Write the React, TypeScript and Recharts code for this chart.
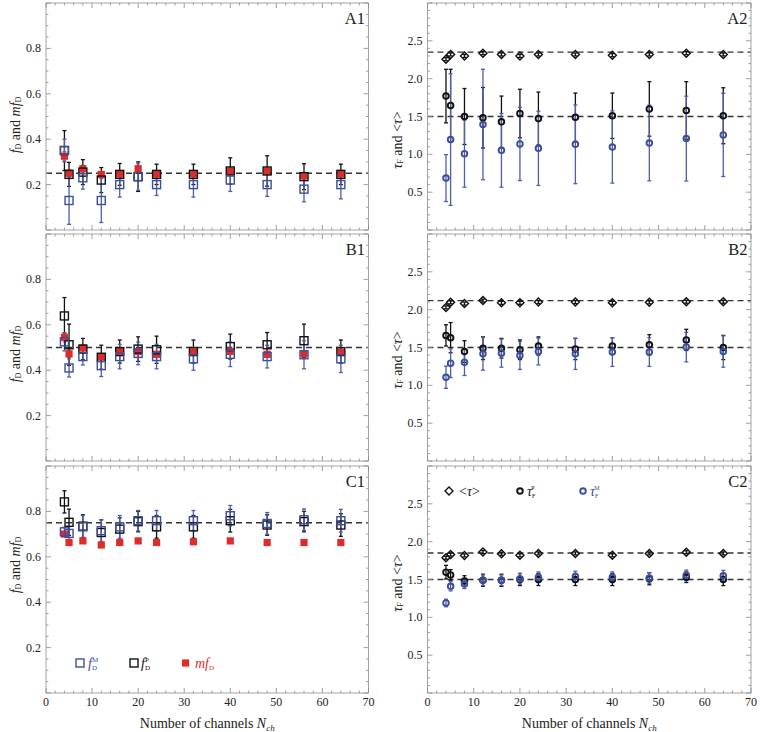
import React from 'react';
import { ScatterChart, Scatter, XAxis, YAxis, ErrorBar, ReferenceLine, Legend } from 'recharts';

const FONT = '"Liberation Serif", "Times New Roman", serif';
const BLUE = '#3b4e9e';
const BLUE_BAR = '#4d5fa8';
const RED = '#e02b2b';
const RED_BAR = '#e87070';
const BLACK = '#111111';
const FRAME = '#a3a3a3';
const TICK = '#8a8a8a';
const DASH = '#333333';

// x positions (number of channels)
const channels = [4, 5, 8, 12, 16, 20, 24, 32, 40, 48, 56, 64];

// tick labels
const xTickLabels = [0, 10, 20, 30, 40, 50, 60, 70];
const yTickLabelsLeft = [0.2, 0.4, 0.6, 0.8];
const yTickLabelsRight = [0.5, 1.0, 1.5, 2.0, 2.5];

// ---------- Panel A1 ----------
const A1_fM = [0.35, 0.13, 0.23, 0.13, 0.2, 0.235, 0.2, 0.2, 0.22, 0.2, 0.18, 0.2];
const A1_fM_err = [0.05, 0.105, 0.05, 0.097, 0.055, 0.06, 0.048, 0.055, 0.05, 0.052, 0.056, 0.063];
const A1_fP = [0.35, 0.245, 0.255, 0.22, 0.245, 0.235, 0.245, 0.245, 0.26, 0.26, 0.235, 0.245];
const A1_fP_err = [0.088, 0.053, 0.055, 0.055, 0.048, 0.065, 0.045, 0.045, 0.058, 0.067, 0.057, 0.045];
const A1_mf = [0.325, 0.25, 0.27, 0.245, 0.247, 0.27, 0.247, 0.247, 0.259, 0.259, 0.238, 0.247];
const A1_mf_err = [0.02, 0.015, 0.015, 0.012, 0.012, 0.015, 0.012, 0.012, 0.012, 0.012, 0.012, 0.012];
const A1_ref = [0.25];

// ---------- Panel B1 ----------
const B1_fM = [0.525, 0.41, 0.46, 0.42, 0.46, 0.474, 0.46, 0.45, 0.47, 0.46, 0.468, 0.45];
const B1_fM_err = [0.04, 0.04, 0.037, 0.048, 0.054, 0.05, 0.054, 0.05, 0.054, 0.05, 0.062, 0.06];
const B1_fP = [0.639, 0.512, 0.493, 0.457, 0.482, 0.493, 0.49, 0.482, 0.504, 0.512, 0.53, 0.482];
const B1_fP_err = [0.081, 0.091, 0.047, 0.053, 0.051, 0.054, 0.06, 0.051, 0.055, 0.054, 0.073, 0.051];
const B1_mf = [0.545, 0.472, 0.498, 0.46, 0.482, 0.482, 0.47, 0.48, 0.483, 0.47, 0.472, 0.48];
const B1_mf_err = [0.02, 0.015, 0.012, 0.012, 0.012, 0.012, 0.012, 0.012, 0.012, 0.012, 0.012, 0.012];
const B1_ref = [0.5];

// ---------- Panel C1 ----------
const C1_fM = [0.71, 0.703, 0.732, 0.715, 0.732, 0.759, 0.759, 0.759, 0.781, 0.747, 0.763, 0.759];
const C1_fM_err = [0.02, 0.03, 0.05, 0.048, 0.05, 0.045, 0.045, 0.045, 0.045, 0.048, 0.048, 0.05];
const C1_fP = [0.842, 0.752, 0.735, 0.707, 0.722, 0.755, 0.732, 0.732, 0.759, 0.74, 0.755, 0.74];
const C1_fP_err = [0.049, 0.058, 0.05, 0.056, 0.05, 0.045, 0.05, 0.05, 0.05, 0.045, 0.045, 0.05];
const C1_mf = [0.7, 0.663, 0.67, 0.652, 0.663, 0.67, 0.663, 0.666, 0.67, 0.663, 0.663, 0.663];
const C1_mf_err = [0.01, 0.008, 0.008, 0.008, 0.008, 0.008, 0.008, 0.008, 0.008, 0.008, 0.008, 0.008];
const C1_ref = [0.75];

// ---------- Panel A2 ----------
const A2_tau = [2.257, 2.32, 2.3, 2.337, 2.32, 2.3, 2.32, 2.32, 2.31, 2.32, 2.337, 2.32];
const A2_tau_err = [0.02, 0.02, 0.02, 0.02, 0.02, 0.02, 0.02, 0.02, 0.02, 0.02, 0.02, 0.02];
const A2_tP = [1.77, 1.646, 1.5, 1.483, 1.43, 1.54, 1.473, 1.49, 1.51, 1.6, 1.58, 1.51];
const A2_tP_err = [0.354, 0.478, 0.37, 0.4, 0.34, 0.32, 0.35, 0.32, 0.3, 0.36, 0.38, 0.37];
const A2_tM = [0.686, 1.195, 1.009, 1.394, 1.053, 1.137, 1.079, 1.132, 1.097, 1.15, 1.208, 1.257];
const A2_tM_err = [0.31, 0.87, 0.443, 0.73, 0.487, 0.483, 0.49, 0.52, 0.477, 0.5, 0.56, 0.55];
const A2_ref = [2.35, 1.5];

// ---------- Panel B2 ----------
const B2_tau = [2.03, 2.097, 2.08, 2.12, 2.09, 2.09, 2.1, 2.1, 2.09, 2.097, 2.105, 2.105];
const B2_tau_err = [0.02, 0.02, 0.02, 0.02, 0.02, 0.02, 0.02, 0.02, 0.02, 0.02, 0.02, 0.02];
const B2_tP = [1.66, 1.63, 1.447, 1.49, 1.49, 1.47, 1.52, 1.48, 1.52, 1.535, 1.6, 1.5];
const B2_tP_err = [0.14, 0.2, 0.143, 0.15, 0.13, 0.13, 0.12, 0.14, 0.11, 0.135, 0.14, 0.16];
const B2_tM = [1.107, 1.293, 1.306, 1.416, 1.425, 1.394, 1.447, 1.416, 1.44, 1.44, 1.505, 1.447];
const B2_tM_err = [0.147, 0.19, 0.176, 0.216, 0.185, 0.184, 0.177, 0.206, 0.19, 0.19, 0.195, 0.207];
const B2_ref = [2.12, 1.5];

// ---------- Panel C2 ----------
const C2_tau = [1.788, 1.83, 1.818, 1.862, 1.84, 1.82, 1.845, 1.845, 1.82, 1.845, 1.86, 1.845];
const C2_tau_err = [0.02, 0.02, 0.02, 0.02, 0.02, 0.02, 0.02, 0.02, 0.02, 0.02, 0.02, 0.02];
const C2_tP = [1.597, 1.56, 1.48, 1.49, 1.49, 1.5, 1.5, 1.5, 1.5, 1.51, 1.53, 1.5];
const C2_tP_err = [0.09, 0.07, 0.07, 0.08, 0.08, 0.08, 0.08, 0.08, 0.08, 0.08, 0.07, 0.08];
const C2_tM = [1.19, 1.41, 1.44, 1.49, 1.49, 1.51, 1.53, 1.54, 1.53, 1.52, 1.555, 1.55];
const C2_tM_err = [0.05, 0.06, 0.06, 0.07, 0.07, 0.07, 0.07, 0.07, 0.07, 0.07, 0.07, 0.07];
const C2_ref = [1.85, 1.5];

const pts = (ys: number[], errs: number[]) => channels.map((x, i) => ({ x, y: ys[i], err: errs[i] }));

const range = (lo: number, hi: number, step: number) => {
  const out: number[] = [];
  const n = Math.round((hi - lo) / step);
  for (let i = 0; i <= n; i++) out.push(+(lo + i * step).toFixed(3));
  return out;
};

const isMult = (v: number, step: number) => Math.abs(v / step - Math.round(v / step)) < 1e-6;

// ---------- marker shapes ----------
const hollowSquare = (color: string) => (p: any) => (
  <rect x={p.cx - 4} y={p.cy - 4} width={8} height={8} fill="none" stroke={color} strokeWidth={1.4} />
);
const filledSquare = (color: string) => (p: any) => (
  <rect x={p.cx - 3.6} y={p.cy - 3.6} width={7.2} height={7.2} fill={color} stroke="none" />
);
const hollowCircle = (color: string) => (p: any) => (
  <circle cx={p.cx} cy={p.cy} r={2.8} fill="none" stroke={color} strokeWidth={1.9} />
);
const hollowDiamond = (color: string) => (p: any) => (
  <path
    d={`M${p.cx},${p.cy - 4}L${p.cx + 4},${p.cy}L${p.cx},${p.cy + 4}L${p.cx - 4},${p.cy}Z`}
    fill="none"
    stroke={color}
    strokeWidth={1.4}
  />
);

type Series = { ys: number[]; errs: number[]; shape: any; bar: string; name: string };

type PanelProps = {
  left: number;
  top: number;
  width: number;
  height: number;
  margin: { top: number; right: number; bottom: number; left: number };
  yMax: number;
  yMajor: number;
  yMinor: number;
  yLabels: number[];
  showX: boolean;
  tag: string;
  series: Series[];
  refs: number[];
  yTitle: React.ReactNode;
  yTitleCenter: number;
  legend?: React.ReactNode;
  legendPos?: { left: number; top: number };
};

const xMinorTicks = range(0, 70, 2);
const AX = 1; // axis thickness used for layout

function Panel(props: PanelProps) {
  const { left, top, width, height, margin, yMax, yMajor, yMinor, yLabels, showX, tag, series, refs, yTitle, yTitleCenter } = props;
  const plotL = margin.left + AX;
  const plotR = width - margin.right - AX;
  const plotT = margin.top + AX;
  const plotB = height - margin.bottom - AX;
  const yTicks = range(0, yMax, yMinor);

  const xTickBottom = (p: any) => {
    const v = p.payload.value;
    const major = isMult(v, 10);
    const lab = showX && xTickLabels.includes(v);
    return (
      <g>
        <line x1={p.x} x2={p.x} y1={p.y} y2={p.y - (major ? 5 : 2.5)} stroke={TICK} strokeWidth={0.8} />
        {lab ? (
          <text x={p.x} y={p.y + 12.5} textAnchor="middle" fontSize={12} fontFamily={FONT} fill="#222">
            {v}
          </text>
        ) : null}
      </g>
    );
  };
  const xTickTop = (p: any) => {
    const v = p.payload.value;
    const major = isMult(v, 10);
    return <line x1={p.x} x2={p.x} y1={p.y} y2={p.y + (major ? 5 : 2.5)} stroke={TICK} strokeWidth={0.8} />;
  };
  const yTickLeft = (p: any) => {
    const v = p.payload.value;
    const major = isMult(v, yMajor);
    const lab = yLabels.some((l) => Math.abs(l - v) < 1e-6);
    return (
      <g>
        <line x1={p.x} x2={p.x + (major ? 5 : 2.5)} y1={p.y} y2={p.y} stroke={TICK} strokeWidth={0.8} />
        {lab ? (
          <text x={p.x - 5} y={p.y + 4} textAnchor="end" fontSize={12} fontFamily={FONT} fill="#222">
            {v.toFixed(1)}
          </text>
        ) : null}
      </g>
    );
  };
  const yTickRight = (p: any) => {
    const v = p.payload.value;
    const major = isMult(v, yMajor);
    return <line x1={p.x} x2={p.x - (major ? 5 : 2.5)} y1={p.y} y2={p.y} stroke={TICK} strokeWidth={0.8} />;
  };

  return (
    <div style={{ position: 'absolute', left, top, width, height }}>
      <ScatterChart width={width} height={height} margin={margin}>
        <XAxis
          type="number"
          dataKey="x"
          domain={[0, 70]}
          allowDataOverflow
          ticks={xMinorTicks}
          interval={0}
          height={AX}
          tickSize={0}
          tickMargin={0}
          tickLine={false}
          axisLine={{ stroke: FRAME, strokeWidth: 1 }}
          tick={xTickBottom}
          label={{
            content: () =>
              showX ? (
                <text x={(plotL + plotR) / 2} y={plotB + 35} textAnchor="middle" fontSize={14} fontFamily={FONT} fill="#222">
                  Number of channels <tspan fontStyle="italic">N</tspan>
                  <tspan fontStyle="italic" fontSize={9} dy={3}>
                    ch
                  </tspan>
                </text>
              ) : null,
          }}
        />
        <XAxis
          xAxisId="top"
          orientation="top"
          type="number"
          dataKey="x"
          domain={[0, 70]}
          allowDataOverflow
          ticks={xMinorTicks}
          interval={0}
          height={AX}
          tickSize={0}
          tickMargin={0}
          tickLine={false}
          axisLine={{ stroke: FRAME, strokeWidth: 1 }}
          tick={xTickTop}
          label={{
            content: () => (
              <text x={plotR - 3.5} y={plotT + 21} textAnchor="end" fontSize={16.5} fontFamily={FONT} fill="#222">
                {tag}
              </text>
            ),
          }}
        />
        <YAxis
          type="number"
          dataKey="y"
          domain={[0, yMax]}
          allowDataOverflow
          ticks={yTicks}
          interval={0}
          width={AX}
          tickSize={0}
          tickMargin={0}
          tickLine={false}
          axisLine={{ stroke: FRAME, strokeWidth: 1 }}
          tick={yTickLeft}
          label={{
            content: () => (
              <text
                x={plotL - 31}
                y={yTitleCenter}
                transform={`rotate(-90 ${plotL - 31} ${yTitleCenter})`}
                textAnchor="middle"
                dominantBaseline="central"
                fontSize={14}
                fontFamily={FONT}
                fill="#222"
              >
                {yTitle}
              </text>
            ),
          }}
        />
        <YAxis
          yAxisId="r"
          orientation="right"
          type="number"
          dataKey="y"
          domain={[0, yMax]}
          allowDataOverflow
          ticks={yTicks}
          interval={0}
          width={AX}
          tickSize={0}
          tickMargin={0}
          tickLine={false}
          axisLine={{ stroke: FRAME, strokeWidth: 1 }}
          tick={yTickRight}
        />
        {refs.map((r) => (
          <ReferenceLine key={r} y={r} stroke={DASH} strokeWidth={1.3} strokeDasharray="6 4" />
        ))}
        {series.map((s) => (
          <Scatter key={s.name} name={s.name} data={pts(s.ys, s.errs)} shape={s.shape} isAnimationActive={false}>
            <ErrorBar dataKey="err" direction="y" width={2} stroke={s.bar} strokeWidth={1.3} isAnimationActive={false} />
          </Scatter>
        ))}
        {props.legend ? (
          <Legend
            layout="horizontal"
            verticalAlign="middle"
            align="center"
            wrapperStyle={{ left: props.legendPos!.left, top: props.legendPos!.top, width: 200, height: 20 }}
            content={() => props.legend}
          />
        ) : null}
      </ScatterChart>
    </div>
  );
}

const leftTitle = (
  <>
    <tspan fontStyle="italic">f</tspan>
    <tspan fontSize={8} dy={3}>
      D
    </tspan>
    <tspan dy={-3}> and </tspan>
    <tspan fontStyle="italic">mf</tspan>
    <tspan fontSize={8} dy={3}>
      D
    </tspan>
  </>
);

const rightTitle = (
  <>
    <tspan fontStyle="italic">τ</tspan>
    <tspan fontSize={8} dy={3}>
      F
    </tspan>
    <tspan dy={-3}> and &lt;</tspan>
    <tspan fontStyle="italic">τ</tspan>
    <tspan>&gt;</tspan>
  </>
);

const legendC1 = (
  <svg width={200} height={20} style={{ overflow: 'visible' }}>
    <rect x={1} y={6} width={8} height={8} fill="none" stroke={BLUE} strokeWidth={1.4} />
    <text x={13} y={15} fontSize={14} fontFamily={FONT} fill={BLUE}>
      <tspan fontStyle="italic">f</tspan>
      <tspan fontSize={7} dy={2}>D</tspan>
      <tspan fontSize={7} dx={-5} dy={-8}>M</tspan>
    </text>
    <rect x={55} y={6} width={8} height={8} fill="none" stroke={BLACK} strokeWidth={1.4} />
    <text x={66} y={15} fontSize={14} fontFamily={FONT} fill={BLACK}>
      <tspan fontStyle="italic">f</tspan>
      <tspan fontSize={7} dy={2}>D</tspan>
      <tspan fontSize={7} dx={-5} dy={-8}>P</tspan>
    </text>
    <rect x={107} y={6.4} width={7.2} height={7.2} fill={RED} />
    <text x={120} y={15} fontSize={14} fontFamily={FONT} fill={RED}>
      <tspan fontStyle="italic">mf</tspan>
      <tspan fontSize={7} dy={2}>D</tspan>
    </text>
  </svg>
);

const legendC2 = (
  <svg width={200} height={20} style={{ overflow: 'visible' }}>
    <path d="M5,6L9,10L5,14L1,10Z" fill="none" stroke={BLACK} strokeWidth={1.4} />
    <text x={15} y={15} fontSize={14} fontFamily={FONT} fill={BLACK}>
      &lt;<tspan fontStyle="italic">τ</tspan>&gt;
    </text>
    <circle cx={76} cy={10} r={2.8} fill="none" stroke={BLACK} strokeWidth={1.9} />
    <text x={83} y={15} fontSize={14} fontFamily={FONT} fill={BLACK}>
      <tspan fontStyle="italic">τ</tspan>
      <tspan fontSize={6} dy={2}>F</tspan>
      <tspan fontSize={6} dx={-4} dy={-8}>P</tspan>
    </text>
    <circle cx={139} cy={10} r={2.8} fill="none" stroke={BLUE} strokeWidth={1.9} />
    <text x={146} y={15} fontSize={14} fontFamily={FONT} fill={BLUE}>
      <tspan fontStyle="italic">τ</tspan>
      <tspan fontSize={6} dy={2}>F</tspan>
      <tspan fontSize={6} dx={-4} dy={-8}>M</tspan>
    </text>
  </svg>
);

const fSeries = (fM: number[], fMe: number[], fP: number[], fPe: number[], mf: number[], mfe: number[]): Series[] => [
  { name: 'mfD', ys: mf, errs: mfe, shape: filledSquare(RED), bar: RED_BAR },
  { name: 'fDP', ys: fP, errs: fPe, shape: hollowSquare(BLACK), bar: BLACK },
  { name: 'fDM', ys: fM, errs: fMe, shape: hollowSquare(BLUE), bar: BLUE_BAR },
];

const tSeries = (tau: number[], taue: number[], tP: number[], tPe: number[], tM: number[], tMe: number[]): Series[] => [
  { name: 'tau', ys: tau, errs: taue, shape: hollowDiamond(BLACK), bar: BLACK },
  { name: 'tauP', ys: tP, errs: tPe, shape: hollowCircle(BLACK), bar: BLACK },
  { name: 'tauM', ys: tM, errs: tMe, shape: hollowCircle(BLUE), bar: BLUE_BAR },
];

const LM = { left: 45, right: 10.5 };
const RM = { left: 46.5, right: 8 };

export default function App() {
  return (
    <div style={{ position: 'absolute', left: 0, top: 0, width: 760, height: 732, background: '#fff', fontFamily: FONT }}>
      <Panel
        left={0} top={0} width={380} height={232}
        margin={{ top: 2, bottom: 1, ...LM }}
        yMax={1} yMajor={0.2} yMinor={0.05} yLabels={yTickLabelsLeft}
        showX={false} tag="A1"
        series={fSeries(A1_fM, A1_fM_err, A1_fP, A1_fP_err, A1_mf, A1_mf_err)}
        refs={A1_ref} yTitle={leftTitle} yTitleCenter={125}
      />
      <Panel
        left={0} top={232} width={380} height={231}
        margin={{ top: 1, bottom: 1, ...LM }}
        yMax={1} yMajor={0.2} yMinor={0.05} yLabels={yTickLabelsLeft}
        showX={false} tag="B1"
        series={fSeries(B1_fM, B1_fM_err, B1_fP, B1_fP_err, B1_mf, B1_mf_err)}
        refs={B1_ref} yTitle={leftTitle} yTitleCenter={122}
      />
      <Panel
        left={0} top={463} width={380} height={269}
        margin={{ top: 2, bottom: 38, ...LM }}
        yMax={1} yMajor={0.2} yMinor={0.05} yLabels={yTickLabelsLeft}
        showX={true} tag="C1"
        series={fSeries(C1_fM, C1_fM_err, C1_fP, C1_fP_err, C1_mf, C1_mf_err)}
        refs={C1_ref} yTitle={leftTitle} yTitleCenter={102}
        legend={legendC1} legendPos={{ left: 75, top: 190 }}
      />
      <Panel
        left={380} top={0} width={380} height={232}
        margin={{ top: 2, bottom: 1, ...RM }}
        yMax={3} yMajor={0.5} yMinor={0.1} yLabels={yTickLabelsRight}
        showX={false} tag="A2"
        series={tSeries(A2_tau, A2_tau_err, A2_tP, A2_tP_err, A2_tM, A2_tM_err)}
        refs={A2_ref} yTitle={rightTitle} yTitleCenter={140}
      />
      <Panel
        left={380} top={232} width={380} height={231}
        margin={{ top: 1, bottom: 1, ...RM }}
        yMax={3} yMajor={0.5} yMinor={0.1} yLabels={yTickLabelsRight}
        showX={false} tag="B2"
        series={tSeries(B2_tau, B2_tau_err, B2_tP, B2_tP_err, B2_tM, B2_tM_err)}
        refs={B2_ref} yTitle={rightTitle} yTitleCenter={128}
      />
      <Panel
        left={380} top={463} width={380} height={269}
        margin={{ top: 2, bottom: 38, ...RM }}
        yMax={3} yMajor={0.5} yMinor={0.1} yLabels={yTickLabelsRight}
        showX={true} tag="C2"
        series={tSeries(C2_tau, C2_tau_err, C2_tP, C2_tP_err, C2_tM, C2_tM_err)}
        refs={C2_ref} yTitle={rightTitle} yTitleCenter={120}
        legend={legendC2} legendPos={{ left: 64, top: 18 }}
      />
    </div>
  );
}
